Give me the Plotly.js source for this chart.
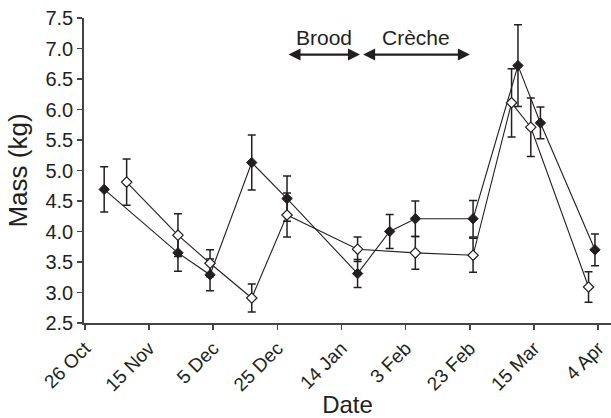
<!DOCTYPE html>
<html>
<head>
<meta charset="utf-8">
<script src="https://cdn.plot.ly/plotly-3.0.1.min.js"></script>
<style>html,body{margin:0;padding:0;background:#fff;}#chart{width:611px;height:418px;}</style>
</head>
<body>
<div id="chart"></div>
<script>
// Filled diamonds series
const filledDates = ['2006-11-01','2006-11-24','2006-12-04','2006-12-17','2006-12-28','2007-01-19','2007-01-29','2007-02-06','2007-02-24','2007-03-10','2007-03-17','2007-04-03'];
const filledMass  = [4.69, 3.65, 3.29, 5.13, 4.54, 3.31, 4.00, 4.21, 4.21, 6.72, 5.78, 3.70];
const filledErr   = [0.37, 0.30, 0.26, 0.45, 0.37, 0.23, 0.28, 0.29, 0.30, 0.67, 0.26, 0.26];
// Open diamonds series
const openDates = ['2006-11-08','2006-11-24','2006-12-04','2006-12-17','2006-12-28','2007-01-19','2007-02-06','2007-02-24','2007-03-08','2007-03-14','2007-04-01'];
const openMass  = [4.81, 3.94, 3.48, 2.91, 4.27, 3.71, 3.65, 3.61, 6.11, 5.71, 3.09];
const openErr   = [0.38, 0.35, 0.22, 0.23, 0.36, 0.20, 0.27, 0.28, 0.56, 0.48, 0.25];
// Axis ticks
const tickDates = ['2006-10-26','2006-11-15','2006-12-05','2006-12-25','2007-01-14','2007-02-03','2007-02-23','2007-03-15','2007-04-04'];
const tickLabels = ['26 Oct','15 Nov','5 Dec','25 Dec','14 Jan','3 Feb','23 Feb','15 Mar','4 Apr'];
// Period annotations
const periodNames = ['Brood','Crèche'];
const periodStart = ['2006-12-28','2007-01-20 06:00'];
const periodEnd   = ['2007-01-19 18:00','2007-02-23'];
const periodLevel = 6.9;
const labelLevel = 7.18;

const font = 'Arial, "Liberation Sans", Helvetica, sans-serif';
const ink = '#231f20';
const axisInk = '#444444';

function errSpec(arr){
  return {type:'data', array:arr, visible:true, color:ink, thickness:1.5, width:4};
}

const traces = [
  {x: filledDates, y: filledMass, mode:'lines+markers', type:'scatter',
   line:{color:ink, width:1.1},
   marker:{symbol:'diamond', size:8, color:ink, line:{color:ink, width:1}},
   error_y: errSpec(filledErr), cliponaxis:false},
  {x: openDates, y: openMass, mode:'lines+markers', type:'scatter',
   line:{color:ink, width:1.1},
   marker:{symbol:'diamond', size:8, color:'#ffffff', line:{color:ink, width:1.2}},
   error_y: errSpec(openErr), cliponaxis:false}
];

const annotations = [];
for (let i = 0; i < periodNames.length; i++) {
  annotations.push({
    x: periodEnd[i], y: periodLevel, ax: periodStart[i], ay: periodLevel,
    xref:'x', yref:'y', axref:'x', ayref:'y', text:'', showarrow:true,
    arrowhead:2, startarrowhead:2, arrowside:'end+start', arrowsize:1, arrowwidth:2.4, arrowcolor:ink
  });
  const mid = new Date((new Date(periodStart[i]).getTime() + new Date(periodEnd[i]).getTime())/2);
  annotations.push({
    x: mid.toISOString().slice(0,19).replace('T',' '), y: labelLevel, xref:'x', yref:'y',
    text: periodNames[i], showarrow:false, font:{family:font, size:21, color:ink}
  });
}

const layout = {
  width:611, height:418,
  margin:{l:84, r:0, t:18, b:95},
  paper_bgcolor:'#fff', plot_bgcolor:'#fff',
  showlegend:false,
  font:{family:font, color:ink},
  xaxis:{
    type:'date', range:['2006-10-25 17:00','2007-04-08'],
    tickmode:'array', tickvals:tickDates, ticktext:tickLabels, tickangle:-45,
    ticks:'outside', ticklen:5, tickwidth:1.5, tickcolor:axisInk,
    showline:true, linecolor:axisInk, linewidth:1.8, showgrid:false, zeroline:false,
    tickfont:{family:font, size:19, color:ink},
    title:{text:'Date', font:{family:font, size:24, color:ink}, standoff:2}
  },
  yaxis:{
    range:[2.5,7.5], tickmode:'linear', tick0:2.5, dtick:0.5, tickformat:'.1f',
    ticks:'outside', ticklen:5, tickwidth:1.5, tickcolor:axisInk,
    showline:true, linecolor:axisInk, linewidth:1.8, showgrid:false, zeroline:false,
    tickfont:{family:font, size:20, color:ink},
    title:{text:'Mass (kg)', font:{family:font, size:26, color:ink}, standoff:10}
  },
  annotations: annotations
};

Plotly.newPlot('chart', traces, layout, {displayModeBar:false, staticPlot:true});
</script>
</body>
</html>
